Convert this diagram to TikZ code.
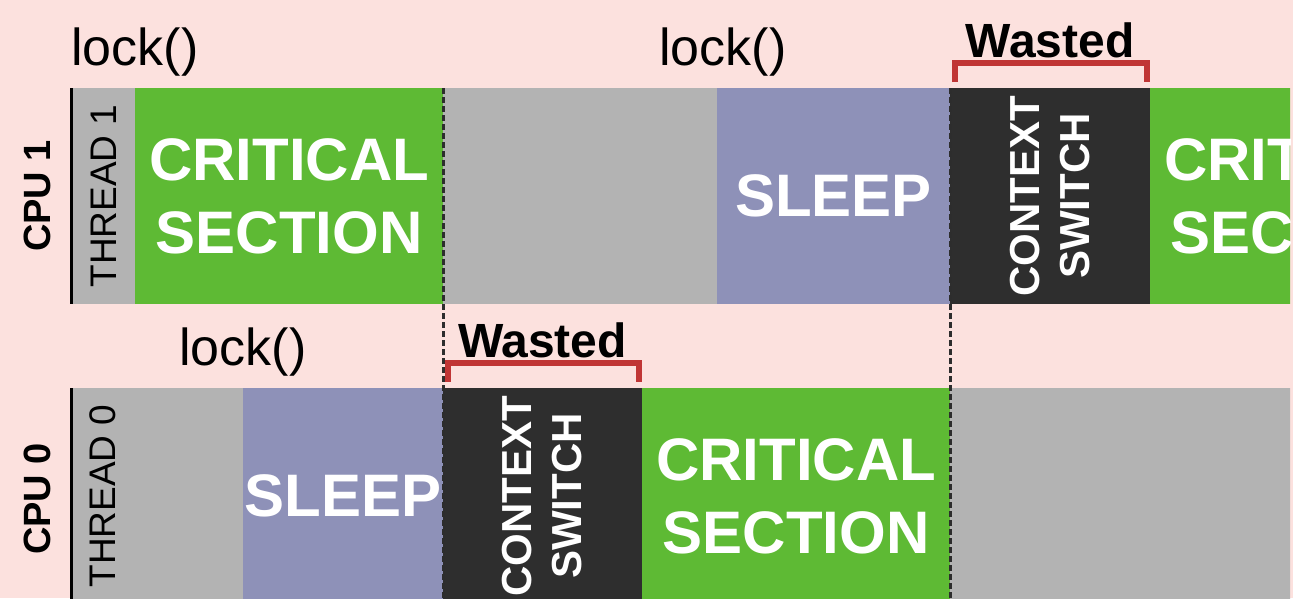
\documentclass[tikz,border=0pt]{standalone}
\usepackage{fontspec}
\setmainfont{Liberation Sans}
\usepackage{xcolor}
\usetikzlibrary{positioning,calc}

\definecolor{bgpink}{RGB}{252,225,222}
\definecolor{critgreen}{RGB}{94,186,52}
\definecolor{idlegray}{RGB}{179,179,179}
\definecolor{sleepblue}{RGB}{142,145,184}
\definecolor{ctxdark}{RGB}{46,46,46}
\definecolor{wastedred}{RGB}{192,53,53}
\definecolor{syncgray}{RGB}{45,45,45}

\begin{document}
\begin{tikzpicture}[
	x=1pt, y=-1pt,
	blk/.style={                % one time slice
		anchor=north west,
		minimum height=216pt,
		inner sep=0pt, outer sep=0pt
	},
	bigtxt/.style={
		text=white, align=center, inner sep=0pt,
		font=\fontsize{60}{73}\selectfont\bfseries
	},
	ctxtxt/.style={
		text=white, align=center, inner sep=0pt, rotate=90,
		font=\fontsize{42}{50}\selectfont\bfseries
	},
	thr/.style={rotate=90, inner sep=0pt, font=\fontsize{37}{37}\selectfont},
	cpu/.style={rotate=90, inner sep=0pt, font=\fontsize{38}{38}\selectfont\bfseries},
	lk/.style={anchor=base, inner sep=0pt, font=\fontsize{52}{52}\selectfont},
	wst/.style={anchor=base, inner sep=0pt, font=\fontsize{48}{48}\selectfont\bfseries},
	brk/.style={draw=wastedred, line width=6pt},
	sync/.style={draw=syncgray, line width=3pt, dash pattern=on 6pt off 3pt},
	axis/.style={draw=black, line width=3pt}
	]
	\fill[bgpink] (0,0) rectangle (1293,598);
	\useasboundingbox (0,0) rectangle (1293,598);
	
	\begin{scope}
		\clip (0,0) rectangle (1290,598);
		
		% --- CPU 1 / THREAD 1 ---
		\foreach \x/\w/\col [count=\i] in {72/63/idlegray, 135/308/critgreen, 443/274/idlegray, 717/233/sleepblue, 950/200/ctxdark, 1150/308/critgreen} {
			\node[blk, fill=\col, minimum width=\w pt] (r1-\i) at (\x, 88) {};
		}
		\node[thr] (t1) at (r1-1) {THREAD 1};
		\node[bigtxt] (r1-2-t) at (r1-2) {CRITICAL\\SECTION};
		\node[bigtxt] (r1-4-t) at (r1-4) {SLEEP};
		\node[ctxtxt] (r1-5-t) at (r1-5) {CONTEXT\\SWITCH};
		\node[bigtxt] (r1-6-t) at (r1-6) {CRITICAL\\SECTION};
		
		% --- CPU 0 / THREAD 0 ---
		\foreach \x/\w/\col [count=\i] in {72/171/idlegray, 243/200/sleepblue, 443/199/ctxdark, 642/308/critgreen, 950/343/idlegray} {
			\node[blk, fill=\col, minimum width=\w pt] (r0-\i) at (\x, 388) {};
		}
		\node[thr] (t0) at ([xshift=31pt]r0-1.west) {THREAD 0};
		\node[bigtxt] (r0-2-t) at (r0-2) {SLEEP};
		\node[ctxtxt] (r0-3-t) at (r0-3) {CONTEXT\\SWITCH};
		\node[bigtxt] (r0-4-t) at (r0-4) {CRITICAL\\SECTION};
		
		% time axes
		\draw[axis] ([xshift=-1pt]r1-1.north west) -- ([xshift=-1pt]r1-1.south west);
		\draw[axis] ([xshift=-1pt]r0-1.north west) -- ([xshift=-1pt]r0-1.south west);
		
		% hand-over lines
		\draw[sync] (r1-3.north west) -- (r0-3.south west);
		\draw[sync] (r1-5.north west) -- (r0-5.south west);
	\end{scope}
	
	\node[cpu] (cpu1) at ([xshift=-35pt]r1-1.west) {CPU 1};
	\node[cpu] (cpu0) at ([xshift=-35pt,yshift=-3pt]r0-1.west) {CPU 0};
	
	% lock() calls
	\node[lk] (lk1a) at ([yshift=23pt]r1-2.north west) {lock()};
	\node[lk] (lk1b) at ([xshift=6pt,yshift=23pt]r1-4.north west) {lock()};
	\node[lk] (lk0) at ([yshift=23pt]r0-2.north west) {lock()};
	
	% wasted time brackets
	\draw[brk] ([xshift=5pt,yshift=6pt]r1-5.north west) -- ++(0,-19) -| ([xshift=-3pt,yshift=6pt]r1-5.north east);
	\node[wst] (w1) at ([yshift=31pt]r1-5.north) {Wasted};
	\draw[brk] ([xshift=5pt,yshift=6pt]r0-3.north west) -- ++(0,-19) -| ([xshift=-3pt,yshift=6pt]r0-3.north east);
	\node[wst] (w0) at ([yshift=31pt]r0-3.north) {Wasted};
	
\end{tikzpicture}
\end{document}
